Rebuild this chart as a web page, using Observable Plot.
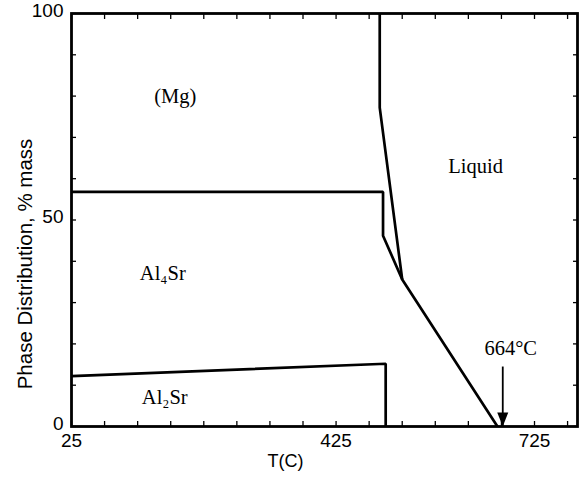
<!DOCTYPE html>
<html>
<head>
<meta charset="utf-8">
<script src="https://cdn.jsdelivr.net/npm/d3@7"></script>
<script src="https://cdn.jsdelivr.net/npm/@observablehq/plot@0.6"></script>
<style>
  html, body { margin: 0; padding: 0; background: white; }
</style>
</head>
<body>
<div id="chart"></div>
<script>
// Axes
const xDomain = [25, 790];
const yDomain = [0, 100];
const xTickLabels = [25, 425, 725];
const xMinorTicks = [25, 75, 125, 175, 225, 275, 325, 375, 425, 475, 525, 575, 625, 675, 725, 775];
const yTickLabels = [0, 50, 100];
const yMinorTicks = [0, 10, 20, 30, 40, 50, 60, 70, 80, 90, 100];

// Phase boundaries (T in C, % mass)
const al2srT = [25, 500, 500];
const al2srV = [12.2, 15.2, 0];
const al4srT = [25, 496, 496, 525, 669];
const al4srV = [56.8, 56.8, 46.2, 35.6, 0];
const mgT = [491, 491, 525];
const mgV = [100, 77.2, 35.6];

// Region labels
const labelText = ["(Mg)", "Liquid", "Al\u2084Sr", "Al\u2082Sr", "664°C"];
const labelT = [182, 636, 163, 166, 689];
const labelV = [79.9, 63, 37, 7, 18.9];

// Arrow marking 664 C
const arrowT = 677;
const arrowTopV = 14.4;

const toRows = (ts, vs) => ts.map((t, i) => ({t, v: vs[i]}));

const downTriangle = {
  draw(ctx) {
    ctx.moveTo(0, 0);
    ctx.lineTo(-5.5, -14);
    ctx.lineTo(5.5, -14);
    ctx.closePath();
  }
};

const lineStyle = {x: "t", y: "v", stroke: "black", strokeWidth: 2.7, strokeLinejoin: "miter", strokeLinecap: "butt"};
const blank = () => "";

const chart = Plot.plot({
  width: 582,
  height: 485,
  marginLeft: 71,
  marginRight: 5,
  marginTop: 13,
  marginBottom: 59,
  style: {fontFamily: "Liberation Sans, Arial, sans-serif", background: "white", color: "black"},
  x: {domain: xDomain},
  y: {domain: yDomain},
  marks: [
    Plot.axisX({ticks: xMinorTicks, tickSize: -5, tickFormat: blank, label: null, strokeWidth: 1.3}),
    Plot.axisX({anchor: "top", ticks: xMinorTicks, tickSize: -5, tickFormat: blank, label: null, strokeWidth: 1.3}),
    Plot.axisX({ticks: xTickLabels, tickSize: 0, tickPadding: 7, fontSize: 19, label: null}),
    Plot.axisY({ticks: yMinorTicks, tickSize: -5, tickFormat: blank, label: null, strokeWidth: 1.3}),
    Plot.axisY({anchor: "right", ticks: yMinorTicks, tickSize: -5, tickFormat: blank, label: null, strokeWidth: 1.3}),
    Plot.axisY({ticks: yTickLabels, tickSize: 0, tickPadding: 8, fontSize: 19, dy: -3, label: null}),
    Plot.frame({stroke: "black", strokeWidth: 2.8}),
    Plot.line(toRows(al2srT, al2srV), lineStyle),
    Plot.line(toRows(al4srT, al4srV), lineStyle),
    Plot.line(toRows(mgT, mgV), lineStyle),
    Plot.ruleX([arrowT], {x: d => d, y1: arrowTopV, y2: 0, stroke: "black", strokeWidth: 1.8}),
    Plot.dot([arrowT], {x: d => d, y: 0, symbol: downTriangle, fill: "black", stroke: "none", r: 5}),
    Plot.text(labelText, {x: (d, i) => labelT[i], y: (d, i) => labelV[i], text: d => d,
      fontFamily: "Liberation Serif, Times New Roman, serif", fontSize: 20.5, fill: "black"}),
    Plot.text(["Phase Distribution, % mass"], {frameAnchor: "left", dx: -46, dy: 44, rotate: -90,
      fontSize: 20.5, fill: "black", textAnchor: "middle"}),
    Plot.text(["T(C)"], {frameAnchor: "bottom", dx: -39, dy: 40, fontSize: 18, fill: "black", textAnchor: "middle"})
  ]
});
document.getElementById("chart").appendChild(chart);
</script>
</body>
</html>
